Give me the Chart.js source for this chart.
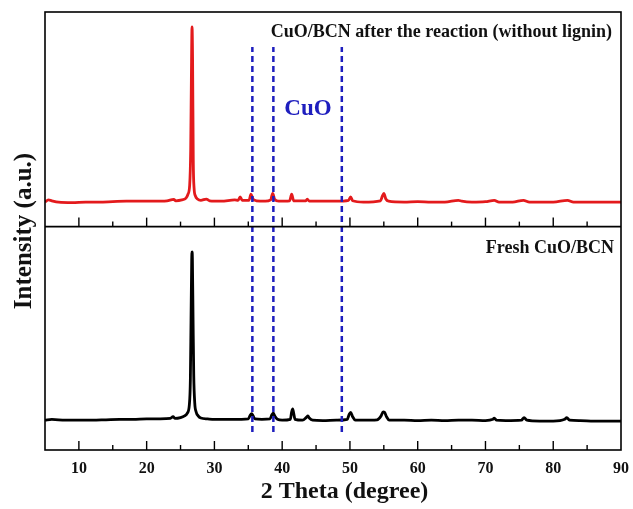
<!DOCTYPE html>
<html>
<head>
<meta charset="utf-8">
<script src="https://cdn.jsdelivr.net/npm/chart.js@4/dist/chart.umd.min.js"></script>
<style>
  html, body { margin: 0; padding: 0; background: #fff; }
  #wrap { width: 633px; height: 509px; position: relative; }
</style>
</head>
<body>
<div id="wrap"><canvas id="c" width="633" height="509"></canvas></div>
<script>
// ---- Data (2θ in degrees, intensity in a.u., already stacked for display) ----
const freshTheta = [5,6,8,10,12,14,16,18,20,22,23.5,23.9,24.2,25,25.6,26.0,26.3,26.45,26.55,26.65,26.7,26.75,26.85,26.95,27.1,27.3,27.6,28,29,30,32,34,35,35.3,35.5,35.7,36,37,38.2,38.5,38.7,38.9,39.3,40,41.2,41.4,41.55,41.7,41.9,43,43.6,43.8,44,44.5,46,48,49.6,49.9,50.1,50.4,50.8,52,54,54.6,54.9,55.1,55.4,55.8,58,60,62,64,66,68,70,71.1,71.3,71.6,73,75.3,75.7,76.1,78,80,81.7,82,82.4,84,86,88,90];
const freshIntensity = [68,70,68,68,68,69,70,70,71,71,72,76,72,74,78,84,103,160,297,434,452,438,297,171,107,87,78,73,71,70,70,70,71,80,83,78,71,70,71,81,84,78,70,68,70,87,94,84,70,68,75,78,73,68,67,68,70,82,86,76,68,68,69,78,87,86,76,68,68,67,68,67,68,68,67,70,73,68,67,68,74,68,66,66,70,74,68,67,66,66,66];

const afterTheta = [5,5.5,6,7,9,11,13,15,17,19,21,23,24,24.3,25.2,25.8,26.1,26.35,26.5,26.6,26.7,26.78,26.88,27,27.2,27.5,28,28.8,29.3,31,33,33.5,33.8,34.1,35.1,35.4,35.7,36.2,37.5,38.3,38.6,38.9,39.5,41.1,41.4,41.7,43.5,43.7,44,46,48,49.8,50.1,50.4,52,54.5,54.8,55,55.3,55.7,58,60,62,64,66,66.5,68,70,71.3,72,74,75.6,76.5,78,80,82.1,83,86,88,90];
const afterIntensity = [566,571,569,566,565,566,566,567,568,568,568,569,572,569,571,575,584,605,685,845,966,890,662,598,580,573,570,573,569,568,571,570,578,570,570,584,573,569,568,571,586,572,568,569,584,569,569,573,568,568,568,570,578,569,566,569,580,586,573,568,566,567,566,566,570,568,566,567,570,566,566,570,566,566,566,570,566,566,566,566];

const cuoRefTheta = [35.6, 38.7, 48.8];
const cuoRefSpan = [41, 920];          // vertical extent of reference lines (a.u.)
const dividerLevel = 510;              // separating line between the two patterns (a.u.)

const xTickLabels = [10,20,30,40,50,60,70,80,90];
const seriesNames = ['Fresh CuO/BCN', 'CuO/BCN after the reaction (without lignin)'];
const xTitle = '2 Theta (degree)';

const FONT = "'Liberation Serif', 'Times New Roman', serif";

function toPoints(xs, ys) { return xs.map((x, i) => ({ x: x, y: ys[i] })); }

const datasets = [];
cuoRefTheta.forEach(t => {
  datasets.push({
    label: 'CuO ' + t,
    data: [{ x: t, y: cuoRefSpan[0] }, { x: t, y: cuoRefSpan[1] }],
    borderColor: '#1e1ebe',
    borderWidth: 2.5,
    borderDash: [6, 4],
    pointRadius: 0,
    order: 0
  });
});
datasets.push({
  label: seriesNames[1],
  data: toPoints(afterTheta, afterIntensity),
  borderColor: '#e31a1c',
  borderWidth: 2.8,
  pointRadius: 0,
  cubicInterpolationMode: 'monotone',
  order: 1
});
datasets.push({
  label: seriesNames[0],
  data: toPoints(freshTheta, freshIntensity),
  borderColor: '#000000',
  borderWidth: 2.8,
  pointRadius: 0,
  cubicInterpolationMode: 'monotone',
  order: 1
});

const decorPlugin = {
  id: 'decor',
  afterDatasetsDraw(chart) {
    const ctx = chart.ctx;
    const a = chart.chartArea;
    const xs = chart.scales.x, ys = chart.scales.y;
    ctx.save();
    // frame
    ctx.strokeStyle = '#000';
    ctx.lineWidth = 1.6;
    ctx.strokeRect(a.left, a.top, a.right - a.left, a.bottom - a.top);
    // divider
    const dy = ys.getPixelForValue(dividerLevel);
    ctx.beginPath();
    ctx.moveTo(a.left, dy); ctx.lineTo(a.right, dy);
    ctx.stroke();
    // inward ticks on bottom axis and divider
    ctx.lineWidth = 1.4;
    xs.ticks.forEach(tk => {
      const v = tk.value;
      if (v <= xs.min || v >= xs.max) return;
      const px = xs.getPixelForValue(v);
      const len = (v % 10 === 0) ? 9 : 5;
      [a.bottom, dy].forEach(base => {
        ctx.beginPath();
        ctx.moveTo(px, base); ctx.lineTo(px, base - len);
        ctx.stroke();
      });
    });
    // texts
    ctx.fillStyle = '#111';
    ctx.textBaseline = 'middle';
    ctx.textAlign = 'right';
    ctx.font = 'bold 18px ' + FONT;
    ctx.fillText(seriesNames[1], a.right - 9, ys.getPixelForValue(953));
    ctx.fillText(seriesNames[0], a.right - 7, ys.getPixelForValue(460));
    // x axis title (slightly right of centre, as in the original)
    ctx.font = 'bold 24px ' + FONT;
    ctx.textAlign = 'center';
    ctx.fillText(xTitle, a.left + (a.right - a.left) * 0.52, a.bottom + 42);
    ctx.fillStyle = '#1e1ebe';
    ctx.font = 'bold 23px ' + FONT;
    ctx.fillText('CuO', xs.getPixelForValue(43.8), ys.getPixelForValue(779));
    ctx.restore();
  }
};

new Chart(document.getElementById('c'), {
  type: 'line',
  data: { datasets: datasets },
  options: {
    responsive: false,
    animation: false,
    events: [],
    layout: { padding: { top: 12, right: 12, left: 0, bottom: 0 } },
    plugins: { legend: { display: false }, tooltip: { enabled: false } },
    scales: {
      x: {
        type: 'linear',
        min: 5, max: 90,
        grid: { display: false, drawTicks: false },
        border: { display: false },
        ticks: {
          stepSize: 5,
          autoSkip: false,
          maxRotation: 0,
          padding: 9,
          color: '#111',
          font: { family: FONT, size: 16, weight: 'bold' },
          callback: v => xTickLabels.includes(v) ? String(v) : ''
        },
        title: { display: false },
        afterFit: s => { s.height = 59; s.paddingLeft = 0; s.paddingRight = 0; }
      },
      y: {
        type: 'linear',
        min: 0, max: 1000,
        grid: { display: false, drawTicks: false },
        border: { display: false },
        ticks: { display: false },
        title: {
          display: true,
          text: 'Intensity (a.u.)',
          color: '#111',
          font: { family: FONT, size: 25, weight: 'bold' },
          padding: { top: 10, bottom: 0 }
        },
        afterFit: s => { s.width = 45; }
      }
    }
  },
  plugins: [decorPlugin]
});
</script>
</body>
</html>
